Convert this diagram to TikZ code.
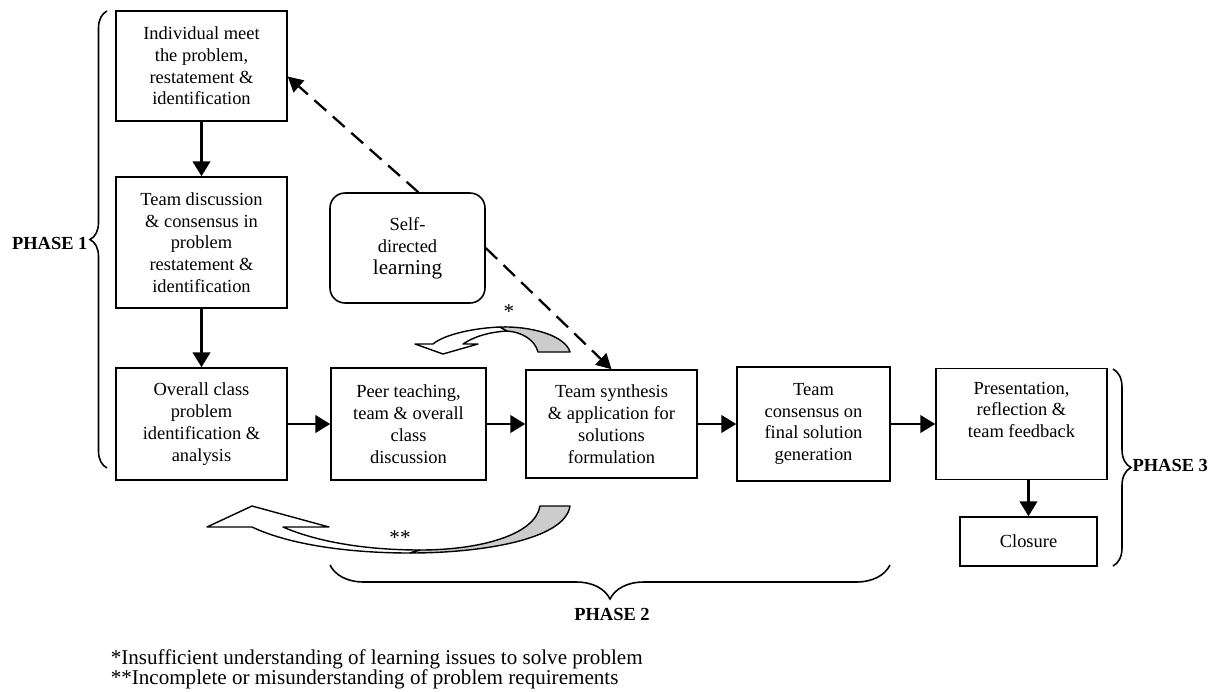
\documentclass[tikz,border=0pt]{standalone}
\usepackage{fontspec}
\setmainfont{Liberation Serif}
\usetikzlibrary{arrows.meta}
\usetikzlibrary{positioning, decorations.pathreplacing}
\tikzset{every picture/.style={line width=0.9pt}}
\tikzset{
  stagebox/.style={draw, align=center, inner sep=1pt, font=\fontsize{10.5}{12.4}\selectfont},
  flowarrow/.style={-{Triangle[length=8.5pt,width=10pt]}, line width=1.4pt},
  dasharrow/.style={-{Triangle[length=8.5pt,width=9pt]}, line width=1.3pt, dash pattern=on 9pt off 5pt},
  phaselabel/.style={font=\fontsize{10.5}{12}\selectfont\bfseries, inner sep=1pt},
  notetext/.style={font=\fontsize{12}{14}\selectfont, inner sep=0pt},
  ribbon/.style={draw, line width=0.8pt, line join=round},
}

\begin{document}
\begin{tikzpicture}[x=0.02cm, y=-0.02cm]
\useasboundingbox (0,0) rectangle (1214,691);

\node[stagebox, minimum width=3.42cm, minimum height=2.2cm] (meet) at (201.5,66) {Individual meet\\the problem,\\restatement \&\\identification};
\node[stagebox, minimum width=3.42cm, minimum height=2.62cm] (discuss) at (201.5,242.5) {Team discussion\\\& consensus in\\problem\\restatement \&\\identification};
\node[stagebox, minimum width=3.42cm, minimum height=2.24cm] (overall) at (201.5,424) {Overall class\\problem\\identification \&\\analysis};
\node[stagebox, minimum width=3.1cm, minimum height=2.24cm] (peer) at (408.5,424) {Peer teaching,\\team \& overall\\class\\discussion};
\node[stagebox, minimum width=3.42cm, minimum height=2.16cm] (synth) at (611.5,424) {Team synthesis\\\& application for\\solutions\\formulation};
\node[stagebox, minimum width=3.06cm, minimum height=2.28cm] (consensus) at (813.5,424) {Team\\consensus on\\final solution\\generation};
\node[stagebox, minimum width=3.42cm, minimum height=2.22cm] (present) at (1021.5,424) {Presentation,\\reflection \&\\team feedback\\\strut};
\node[stagebox, minimum width=2.74cm, minimum height=0.98cm] (closure) at (1028.5,541.5) {Closure};
\node[stagebox, rounded corners=0.3cm, minimum width=3.1cm, minimum height=2.2cm] (self) at (407.5,248) {Self-\\directed\\{\fontsize{12}{13}\selectfont learning}};

\draw[flowarrow] (meet) -- (discuss);
\draw[flowarrow] (discuss) -- (overall);
\draw[flowarrow] (overall) -- (peer);
\draw[flowarrow] (peer) -- (synth);
\draw[flowarrow] (synth) -- (consensus);
\draw[flowarrow] (consensus) -- (present);
\draw[flowarrow] (closure.north |- present.south) -- (closure.north);

\draw[dasharrow] (self.79) -- (meet.-7);
\draw[dasharrow] (self.east) -- (synth.north);

\filldraw[ribbon, fill=white] (415,344) -- (443,354) -- (478,344) -- (463,344) .. controls (475,336) and (490,332) .. (507,331) -- (500,327) .. controls (475,328) and (445,334) .. (433,344) -- cycle;
\filldraw[ribbon, fill=black!20] (500,327) .. controls (530,326) and (565,335) .. (570,352) -- (538,352) .. controls (535,340) and (522,332) .. (507,331) -- cycle;
\node[notetext] (star) at (509,312) {*};

\filldraw[ribbon, fill=white] (207,527) -- (252,506) -- (329,527) -- (283,527) .. controls (320,543) and (370,550) .. (420,550) -- (410,553) .. controls (350,553) and (290,545) .. (252,527) -- cycle;
\filldraw[ribbon, fill=black!20] (410,553) .. controls (480,553) and (565,540) .. (570,506) -- (540,506) .. controls (535,535) and (480,550) .. (420,550) -- cycle;
\node[notetext] (stars) at (400,538) {**};

\draw[decorate, decoration={brace, amplitude=0.34cm}] (107,468) -- (107,11);
\node[phaselabel, anchor=east] (phaseone) at (90,243) {PHASE 1};
\draw[decorate, decoration={brace, amplitude=0.68cm}] (890,565) -- (330,565);
\node[phaselabel] (phasetwo) at (612,614) {PHASE 2};
\draw[decorate, decoration={brace, amplitude=0.36cm}] (1113,369) -- (1113,566);
\node[phaselabel, anchor=west] (phasethree) at (1130,465) {PHASE 3};

\node[notetext, anchor=west] (noteone) at (110,659) {*Insufficient understanding of learning issues to solve problem};
\node[notetext, anchor=west] (notetwo) at (110,679) {**Incomplete or misunderstanding of problem requirements};
\end{tikzpicture}
\end{document}
